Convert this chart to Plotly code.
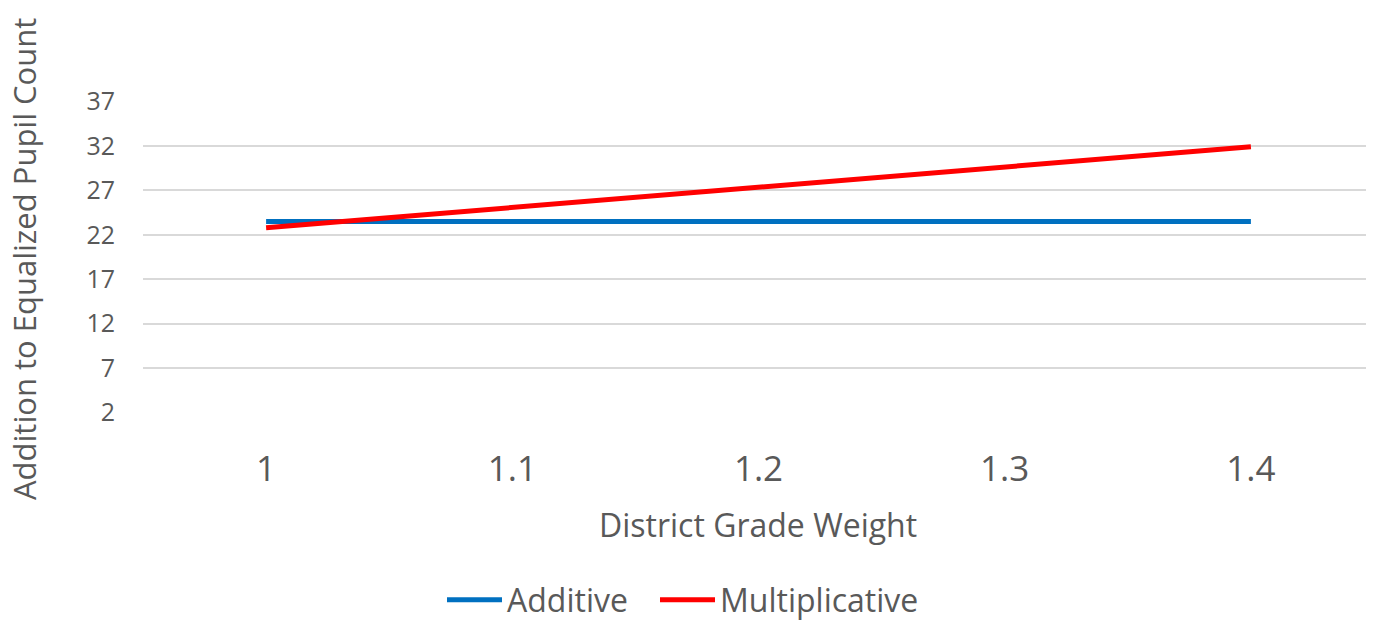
import plotly.graph_objects as go

weights = ["1", "1.1", "1.2", "1.3", "1.4"]
additive = [23.5, 23.5, 23.5, 23.5, 23.5]
multiplicative = [22.8, 25.1, 27.4, 29.6, 31.9]
y_ticks = [2, 7, 12, 17, 22, 27, 32, 37]

font_family = "Open Sans, Liberation Sans, sans-serif"
grey = "#595959"

fig = go.Figure()
fig.add_trace(go.Scatter(x=weights, y=additive, mode="lines", name="Additive",
                         line=dict(color="#0070C0", width=5), legend="legend"))
fig.add_trace(go.Scatter(x=weights, y=multiplicative, mode="lines", name="Multiplicative",
                         line=dict(color="#FF0000", width=5), legend="legend2"))

# page body has an 8px margin; work in page pixels, subtract offset
OFF = 8
W, H = 1374 - OFF, 620 - OFF
L, T = 143 - OFF, 101 - OFF
plot_bottom = 413 - OFF
R = 0
B = H - plot_bottom
pw = W - L - R
ph = H - T - B

leg_common = dict(orientation="h", xref="container", xanchor="left",
                  yref="container", yanchor="middle", y=(H - (600 - OFF)) / H,
                  font=dict(size=32, color=grey), itemwidth=55,
                  bgcolor="rgba(0,0,0,0)")

fig.update_layout(
    width=W, height=H,
    margin=dict(l=L, r=R, t=T, b=B, autoexpand=False),
    paper_bgcolor="white", plot_bgcolor="white",
    font=dict(family=font_family, color=grey),
    showlegend=True,
    legend=dict(x=(447 - OFF - 5) / W, **leg_common),
    legend2=dict(x=(660 - OFF - 5) / W, **leg_common),
    xaxis=dict(type="category", range=[-0.5, 4.5], showgrid=False, zeroline=False,
               showline=False, ticks="outside", ticklen=25, tickcolor="rgba(0,0,0,0)",
               tickfont=dict(size=35, color=grey), automargin=False),
    yaxis=dict(range=[1.95, 37.05], tickvals=y_ticks, showgrid=True, gridcolor="#D9D9D9",
               gridwidth=1.5, zeroline=False, showline=False, ticks="outside",
               ticklen=22, tickcolor="rgba(0,0,0,0)", tickfont=dict(size=25, color=grey),
               automargin=False),
    annotations=[
        dict(text="Addition to Equalized Pupil Count", xref="paper", yref="paper",
             x=(24 - OFF - L) / pw, y=(plot_bottom - (259 - OFF)) / ph,
             xanchor="center", yanchor="middle", textangle=-90, showarrow=False,
             borderpad=0, font=dict(size=31, color=grey)),
        dict(text="District Grade Weight", xref="paper", yref="paper",
             x=(758 - OFF - L) / pw, y=-(524 - 413) / ph,
             xanchor="center", yanchor="middle", showarrow=False,
             font=dict(size=32, color=grey)),
    ],
)

fig.write_html("out.html")
